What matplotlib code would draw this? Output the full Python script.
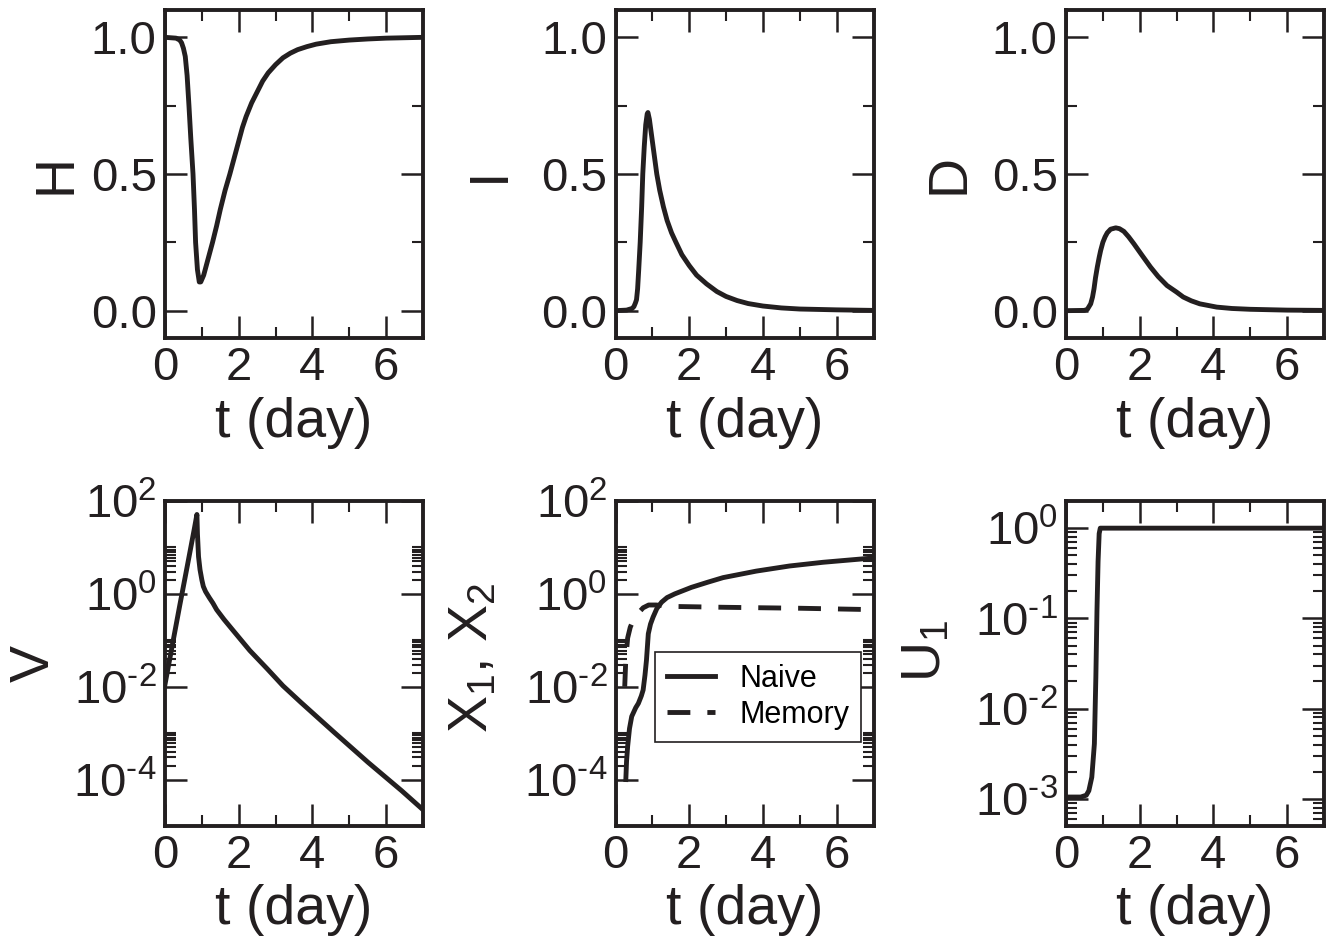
import numpy as np
import matplotlib
matplotlib.use("Agg")
import matplotlib.pyplot as plt
from matplotlib.ticker import FixedLocator, FuncFormatter, FormatStrFormatter, MultipleLocator

plt.rcParams['font.family'] = ['Liberation Sans', 'DejaVu Sans']
plt.rcParams['mathtext.fontset'] = 'custom'
plt.rcParams['mathtext.rm'] = 'Liberation Sans'
plt.rcParams['mathtext.it'] = 'Liberation Sans:italic'
plt.rcParams['mathtext.bf'] = 'Liberation Sans:bold'

# ---------------- data ----------------
t_H = [0.0, 0.3, 0.4, 0.45, 0.5, 0.55, 0.6, 0.65, 0.7, 0.76, 0.8, 0.83, 0.88, 0.93, 0.97,
       1.05, 1.15, 1.29, 1.4, 1.5, 1.63, 1.76, 1.9, 2.0, 2.1, 2.2, 2.35, 2.5, 2.65, 2.8,
       3.0, 3.2, 3.4, 3.6, 3.85, 4.1, 4.5, 5.0, 5.5, 6.0, 7.0]
H = [1.0, 0.997, 0.99, 0.98, 0.96, 0.93, 0.86, 0.75, 0.63, 0.5, 0.37, 0.25, 0.15, 0.105, 0.105,
     0.13, 0.18, 0.25, 0.31, 0.37, 0.44, 0.5, 0.57, 0.62, 0.67, 0.71, 0.76, 0.80, 0.84, 0.87,
     0.90, 0.925, 0.942, 0.955, 0.966, 0.975, 0.984, 0.99, 0.994, 0.997, 1.0]

t_I = [0.0, 0.3, 0.45, 0.5, 0.54, 0.57, 0.6, 0.63, 0.67, 0.71, 0.74, 0.78, 0.82, 0.86, 0.88,
       0.92, 0.96, 1.0, 1.06, 1.12, 1.2, 1.3, 1.4, 1.52, 1.64, 1.8, 2.0, 2.2, 2.47, 2.75,
       3.0, 3.3, 3.6, 4.0, 4.5, 5.0, 6.0, 7.0]
I = [0.0, 0.002, 0.008, 0.015, 0.028, 0.04, 0.08, 0.15, 0.25, 0.38, 0.5, 0.6, 0.68, 0.72, 0.725,
     0.70, 0.66, 0.62, 0.56, 0.5, 0.44, 0.38, 0.33, 0.285, 0.25, 0.205, 0.165, 0.13, 0.098, 0.07,
     0.052, 0.037, 0.026, 0.017, 0.01, 0.006, 0.003, 0.001]

t_D = [0.0, 0.5, 0.58, 0.67, 0.72, 0.76, 0.8, 0.85, 0.9, 0.94, 1.0, 1.06, 1.12, 1.21, 1.35,
       1.45, 1.57, 1.7, 1.84, 2.05, 2.29, 2.5, 2.74, 3.0, 3.18, 3.4, 3.63, 4.09, 4.5, 5.0,
       6.0, 7.0]
D = [0.0, 0.001, 0.005, 0.025, 0.05, 0.08, 0.12, 0.16, 0.195, 0.22, 0.25, 0.27, 0.285, 0.298,
     0.303, 0.30, 0.29, 0.27, 0.245, 0.205, 0.16, 0.125, 0.092, 0.068, 0.05, 0.036, 0.025,
     0.013, 0.008, 0.005, 0.002, 0.001]

t_V = [0.0, 0.2, 0.4, 0.6, 0.8, 0.866, 0.88, 0.91, 0.95, 1.0, 1.04, 1.1, 1.2, 1.3, 1.4, 1.6,
       1.86, 2.3, 2.78, 3.2, 3.69, 4.6, 5.51, 6.42, 7.0]
logV = [-1.95, -1.1, -0.25, 0.58, 1.42, 1.71, 1.3, 0.8, 0.52, 0.3, 0.16, 0.05, -0.08, -0.2,
        -0.34, -0.55, -0.8, -1.22, -1.62, -1.98, -2.34, -2.99, -3.63, -4.24, -4.65]

t_X1 = [0.28, 0.30, 0.33, 0.38, 0.44, 0.55, 0.62, 0.7, 0.75, 0.8, 0.84, 0.89, 0.95, 1.02,
        1.12, 1.25, 1.4, 1.61, 2.06, 2.5, 2.92, 3.82, 4.72, 5.63, 6.8, 7.0]
logX1 = [-4.0, -3.6, -3.28, -2.9, -2.64, -2.45, -2.36, -2.2, -2.07, -1.75, -1.43, -0.86,
         -0.65, -0.5, -0.32, -0.18, -0.08, 0.0, 0.14, 0.25, 0.35, 0.49, 0.6, 0.68, 0.76, 0.77]

t_X2 = [0.25, 0.28, 0.33, 0.4, 0.48, 0.6, 0.75, 0.9, 1.1, 1.5, 3.0, 5.0, 7.0]
logX2 = [-2.0, -1.4, -0.95, -0.72, -0.57, -0.43, -0.3, -0.24, -0.24, -0.27, -0.29, -0.31, -0.34]

t_U = [0.0, 0.4, 0.55, 0.62, 0.70, 0.74, 0.77, 0.81, 0.84, 0.87, 0.90, 0.93, 7.0]
logU = [-2.98, -2.98, -2.96, -2.91, -2.76, -2.55, -2.39, -1.65, -0.92, -0.37, -0.06, 0.0, 0.0]

legend_labels = ['Naive', 'Memory']
xlabel = 't (day)'

# ---------------- layout ----------------
W, Hpx = 1326, 940
fig = plt.figure(figsize=(W / 100, Hpx / 100), dpi=100)

cols = [165, 615.5, 1066]
aw = 258
rows = [(10, 338), (501, 826)]

def make_ax(ci, ri):
    top, bot = rows[ri]
    return fig.add_axes([cols[ci] / W, 1 - bot / Hpx, aw / W, (bot - top) / Hpx])

LW = 3.5
TICK_FS = 34
LAB_FS = 40
col = '#231f20'

def style(ax):
    for s in ax.spines.values():
        s.set_linewidth(2.8)
        s.set_color(col)
    ax.tick_params(which='both', direction='in', top=True, right=True, colors=col)
    ax.tick_params(which='major', length=16, width=1.8, labelsize=TICK_FS, pad=6)
    ax.tick_params(which='minor', length=8, width=1.5)
    ax.set_xlim(0, 7)
    ax.xaxis.set_major_locator(MultipleLocator(2))
    ax.xaxis.set_minor_locator(MultipleLocator(1))
    ax.text(0.5, -0.302, xlabel, transform=ax.transAxes, ha='center', va='baseline',
            fontsize=LAB_FS, color=col)

def ylab(ax, txt, x, y=0.5):
    ax.text(x, y, txt, transform=ax.transAxes, rotation=90, ha='center', va='center',
            fontsize=LAB_FS, color=col)

def logfmt(v, pos):
    e = int(round(np.log10(v)))
    if e < 0:
        return r'$\mathregular{10^{\text{-}%d}}$' % (-e)
    return r'$\mathregular{10^{%d}}$' % e

def nolab(v, pos):
    return ''

# top row
for ci, (tt, yy, name, lx) in enumerate([(t_H, H, 'H', -0.422), (t_I, I, 'I', -0.486),
                                         (t_D, D, 'D', -0.45)]):
    ax = make_ax(ci, 0)
    style(ax)
    ax.plot(tt, yy, color=col, lw=LW, solid_joinstyle='round')
    ax.set_ylim(-0.1, 1.1)
    ax.yaxis.set_major_locator(FixedLocator([0.0, 0.5, 1.0]))
    ax.yaxis.set_minor_locator(FixedLocator([0.25, 0.75]))
    ax.yaxis.set_major_formatter(FormatStrFormatter('%.1f'))
    ylab(ax, name, lx)

# bottom row: V
two_dec_minor = [k * 10.0 ** e for e in (-6, -4, -2, 0) for k in range(2, 11)]

ax = make_ax(0, 1)
style(ax)
ax.set_yscale('log')
ax.plot(t_V, 10 ** np.array(logV), color=col, lw=LW, solid_joinstyle='round')
ax.set_ylim(1e-5, 1e2)
ax.yaxis.set_major_locator(FixedLocator([1e-4, 1e-2, 1e0, 1e2]))
ax.yaxis.set_minor_locator(FixedLocator(two_dec_minor))
ax.yaxis.set_major_formatter(FuncFormatter(logfmt))
ax.yaxis.set_minor_formatter(FuncFormatter(nolab))
ax.set_xlim(0, 7)
ylab(ax, 'V', -0.504)

# X1, X2
ax = make_ax(1, 1)
style(ax)
ax.set_yscale('log')
ax.plot(t_X1, 10 ** np.array(logX1), color=col, lw=LW, label=legend_labels[0],
        solid_joinstyle='round')
ax.plot(t_X2, 10 ** np.array(logX2), color=col, lw=LW, linestyle=(0, (4.7, 3.5)),
        label=legend_labels[1])
ax.set_ylim(1e-5, 1e2)
ax.yaxis.set_major_locator(FixedLocator([1e-4, 1e-2, 1e0, 1e2]))
ax.yaxis.set_minor_locator(FixedLocator(two_dec_minor))
ax.yaxis.set_major_formatter(FuncFormatter(logfmt))
ax.yaxis.set_minor_formatter(FuncFormatter(nolab))
ax.set_xlim(0, 7)
ylab(ax, r'X$_\mathregular{1}$, X$_\mathregular{2}$', -0.55, 0.517)
leg = ax.legend(loc='lower left', bbox_to_anchor=(0.153, 0.258), fontsize=22,
                frameon=True, fancybox=False, shadow=False, handlelength=1.55,
                handletextpad=0.8, labelspacing=0.2, borderpad=0.4,
                borderaxespad=0.0)
leg.get_frame().set_edgecolor(col)
leg.get_frame().set_linewidth(1.2)
leg.get_frame().set_alpha(1)

# U1
ax = make_ax(2, 1)
style(ax)
ax.set_yscale('log')
ax.plot(t_U, 10 ** np.array(logU), color=col, lw=LW, solid_joinstyle='round')
ax.set_ylim(5e-4, 2.0)
ax.yaxis.set_major_locator(FixedLocator([1e-3, 1e-2, 1e-1, 1e0]))
ax.yaxis.set_minor_locator(FixedLocator([k * 10.0 ** e for e in (-4, -3, -2, -1, 0)
                                         for k in range(2, 10)]))
ax.yaxis.set_major_formatter(FuncFormatter(logfmt))
ax.yaxis.set_minor_formatter(FuncFormatter(nolab))
ax.set_xlim(0, 7)
ylab(ax, r'U$_\mathregular{1}$', -0.543, 0.54)

fig.savefig('out.png', dpi=100)
